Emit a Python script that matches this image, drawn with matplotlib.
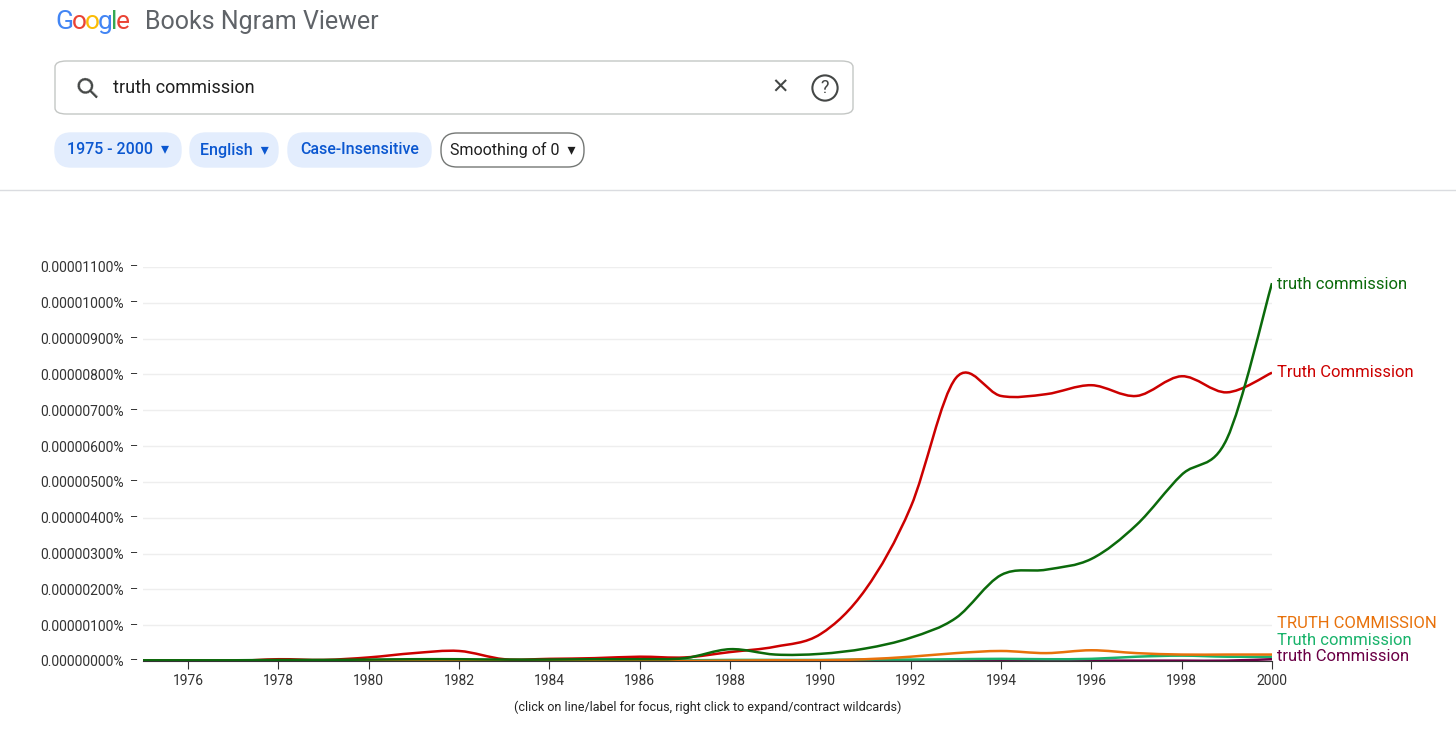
import numpy as np
import matplotlib
matplotlib.use("Agg")
import matplotlib.pyplot as plt
from matplotlib.path import Path
from matplotlib.patches import PathPatch, FancyBboxPatch
plt.rcParams['font.family'] = ['Roboto', 'DejaVu Sans']

years = list(range(1975, 2001))
# values in units of 0.0000001 %
truth_commission = [0.02,0.02,0.02,0.03,0.03,0.04,0.05,0.05,0.04,0.04,0.05,0.05,0.08,0.33,0.18,0.2,0.35,0.65,1.2,2.4,2.55,2.85,3.8,5.2,6.2,10.55]
Truth_Commission = [0,0,0,0.05,0.03,0.1,0.22,0.28,0.05,0.06,0.08,0.12,0.1,0.25,0.4,0.75,2.0,4.3,7.9,7.4,7.45,7.7,7.4,7.95,7.5,8.05]
TRUTH_COMMISSION = [0,0,0,0,0,0,0,0,0,0,0,0,0,0.01,0.02,0.02,0.05,0.12,0.22,0.28,0.22,0.3,0.22,0.18,0.18,0.18]
Truth_commission = [0.01,0.01,0.01,0.01,0.01,0.01,0.02,0.02,0.02,0.02,0.02,0.02,0.02,0.03,0.03,0.03,0.04,0.04,0.05,0.06,0.05,0.06,0.12,0.15,0.12,0.12]
truth_Commission = [0.01]*25 + [0.05]
series = [("truth commission", truth_commission, "#0b6a0b"),
          ("Truth Commission", Truth_Commission, "#cc0000"),
          ("TRUTH COMMISSION", TRUTH_COMMISSION, "#e8710a"),
          ("Truth commission", Truth_commission, "#19b36b"),
          ("truth Commission", truth_Commission, "#6b0046")]
label_y = [10.5, 8.05, 1.05, 0.58, 0.12]
yticks = list(range(0, 12))
ytick_labels = ["0.00000%s%%" % f"{v:02d}0" if False else "0.0000%03d0%%" % (v*10) for v in yticks]
ytick_labels = ["0.%07d%%" % (v*10) for v in yticks]
ytick_labels = ["0.0000%s0%%" % ("%03d" % (v*10)) for v in yticks]

fig = plt.figure(figsize=(14.56, 7.55), dpi=100)
W, H = 1456, 755
ax = fig.add_axes([143/W, 1-661/H, (1272-143)/W, (661-267)/H])

def smooth_path(x, y):
    x = np.asarray(x, float); y = np.asarray(y, float)
    verts = [(x[0], y[0])]; codes = [Path.MOVETO]
    n = len(x)
    for i in range(n-1):
        p0 = (x[max(i-1,0)], y[max(i-1,0)]); p1 = (x[i], y[i])
        p2 = (x[i+1], y[i+1]); p3 = (x[min(i+2,n-1)], y[min(i+2,n-1)])
        c1 = (p1[0]+(p2[0]-p0[0])/6, p1[1]+(p2[1]-p0[1])/6)
        c2 = (p2[0]-(p3[0]-p1[0])/6, p2[1]-(p3[1]-p1[1])/6)
        verts += [c1, c2, p2]; codes += [Path.CURVE4]*3
    return Path(verts, codes)

for (name, vals, col), ly in zip(series[::-1], label_y[::-1]):
    ax.add_patch(PathPatch(smooth_path(years, vals), fill=False, edgecolor=col, lw=1.8))
for (name, vals, col), ly in zip(series, label_y):
    ax.text(2000.1, ly, name, color=col, fontsize=12, va='center', ha='left', clip_on=False)

ax.set_xlim(1975, 2000)
ax.set_ylim(0, 11)
ax.set_yticks(yticks)
ax.set_yticklabels(ytick_labels, fontsize=10, color='#333333')
ax.set_xticks(range(1976, 2001, 2))
ax.tick_params(axis='x', labelsize=10, colors='#333333', length=6, direction='out')
ax.tick_params(axis='y', length=6, direction='in', pad=4, colors='#333333')
ax.tick_params(axis='y', which='both', left=False)
for v in yticks:
    ax.annotate('–', xy=(0, v), xycoords=('axes fraction', 'data'), xytext=(-4, 0),
                textcoords='offset points', ha='right', va='center', fontsize=9, color='#333333')
ax.tick_params(axis='y', pad=14)
ax.grid(axis='y', color='#eeeeee', lw=1)
for s in ['top', 'right', 'left']:
    ax.spines[s].set_visible(False)
ax.spines['bottom'].set_color('#333333')
ax.set_axisbelow(True)

fig.text(708/W, 1-707/H, "(click on line/label for focus, right click to expand/contract wildcards)",
         ha='center', va='center', fontsize=9, color='#222222')

# header
x0 = 55/W
for ch, c in zip("Google", ["#4285f4", "#ea4335", "#fbbc05", "#4285f4", "#34a853", "#ea4335"]):
    t = fig.text(x0, 1-22/H, ch, fontsize=19, color=c, va='center', ha='left')
    x0 += {"G": 17, "o": 13, "g": 13, "l": 5, "e": 12}[ch]/W
fig.text(145/W, 1-22/H, "Books Ngram Viewer", fontsize=18, color='#5f6368', va='center')
fig.add_artist(FancyBboxPatch((55/W, 1-114/H), 798/W, 53/H, boxstyle="round,pad=0,rounding_size=0.008",
                              transform=fig.transFigure, fc='white', ec='#c4c7c5', lw=1))
fig.text(72/W, 1-88/H, "⚲", fontsize=20, color='#444746', va='center', rotation=45)
fig.text(113/W, 1-88/H, "truth commission", fontsize=13, color='#1f1f1f', va='center')
fig.text(780/W, 1-88/H, "✕", fontsize=15, color='#444746', va='center', ha='center')
fig.text(825/W, 1-88/H, "?", fontsize=13, color='#444746', va='center', ha='center',
         bbox=dict(boxstyle='circle,pad=0.2', fc='white', ec='#444746', lw=1.5))
chips = [("1975 - 2000  ▾", 55, 181, True), ("English  ▾", 190, 278, True),
         ("Case-Insensitive", 288, 431, True), ("Smoothing of 0  ▾", 441, 584, False)]
for txt, a, b, filled in chips:
    fig.add_artist(FancyBboxPatch((a/W, 1-167/H), (b-a)/W, 34/H, boxstyle="round,pad=0,rounding_size=0.011",
                                  transform=fig.transFigure, fc='#e3edfd' if filled else 'white',
                                  ec='#e3edfd' if filled else '#747775', lw=1, mutation_aspect=W/H))
    fig.text((a+b)/2/W, 1-150/H, txt, fontsize=11.5, ha='center', va='center',
             color='#0b57d0' if filled else '#1f1f1f', weight='medium' if filled else 'normal')
fig.add_artist(plt.Line2D([0, 1], [1-190/H]*2, color='#dadce0', lw=1, transform=fig.transFigure))
fig.savefig("out.png", dpi=100)
